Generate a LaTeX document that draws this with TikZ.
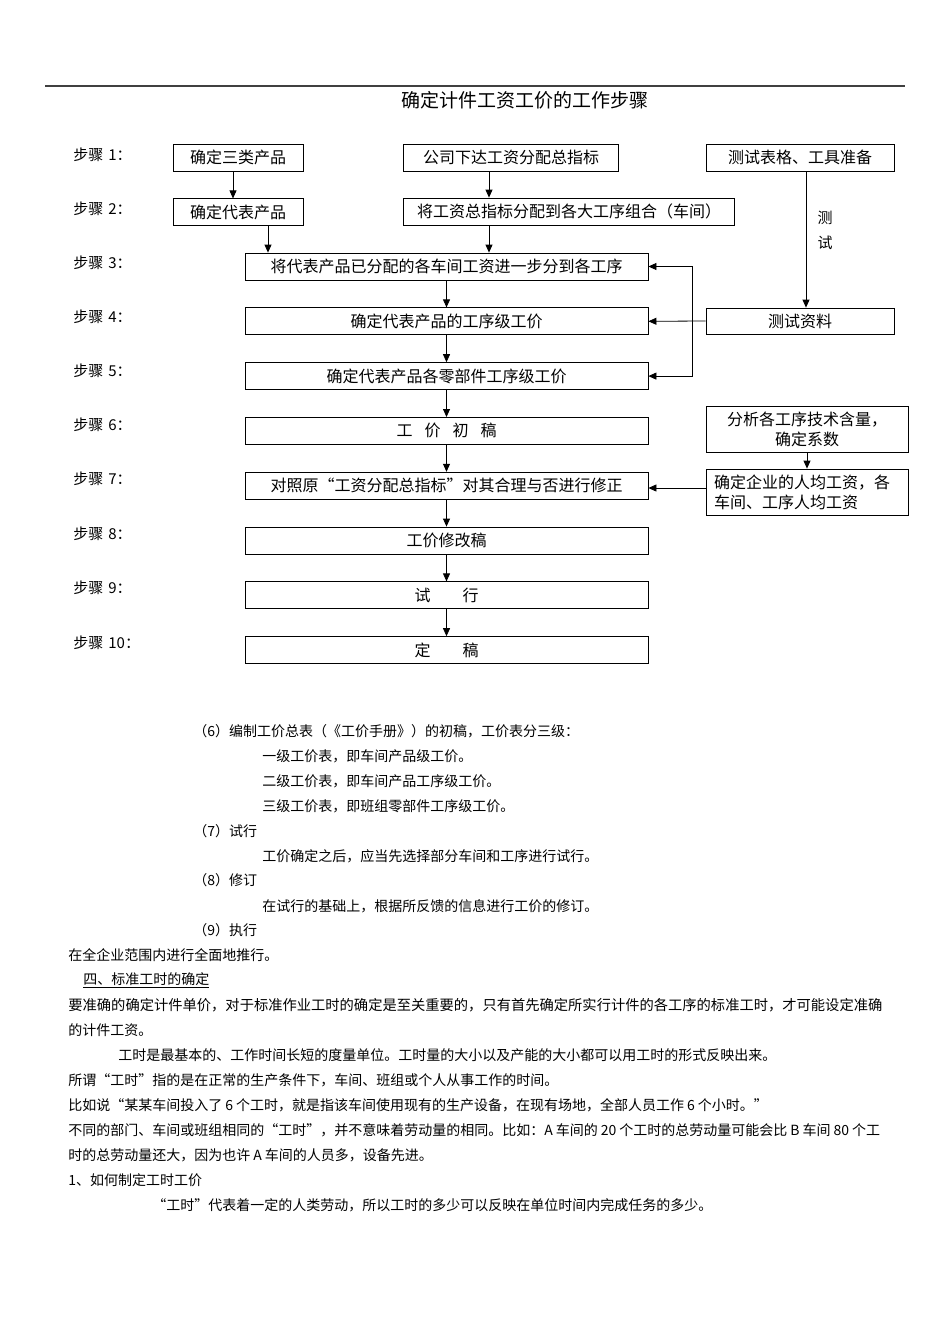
\documentclass[tikz,border=0pt]{standalone}
\usepackage{fontspec}
\setmainfont{Noto Sans CJK SC}
\XeTeXlinebreaklocale "zh"
\XeTeXlinebreakskip=0pt plus 2pt
\usetikzlibrary{arrows.meta, positioning}

\begin{document}
\begin{tikzpicture}[
      x=1pt, y=-1pt,
      node distance=27pt, % gap between the step boxes
      >={Triangle[length=8pt,width=7pt]},
      line width=0.8pt,
      proc/.style={
        rectangle,
        draw,
        align=center,
        inner sep=0pt,
        minimum height=27pt, % one-line boxes
        font=\fontsize{16}{20}\selectfont
      },
      wide/.style={proc, minimum width=403pt},
      steplabel/.style={anchor=west, inner sep=0pt, font=\fontsize{15}{18}\selectfont},
      para/.style={anchor=west, inner sep=0pt, font=\fontsize{14}{17}\selectfont}
    ]
  \useasboundingbox[fill=white] (0,0) rectangle (950,1344);

  % page rule and title
  \draw[line width=1.6pt, black!75] (45,86) -- (905,86);
  \node[font=\fontsize{19}{23}\selectfont] (title) at (525,100) {确定计件工资工价的工作步骤};

  % step labels
  \foreach \n/\y in {1/155, 2/209, 3/263, 4/317, 5/371, 6/425, 7/479, 8/534, 9/588, 10/643}
    \node[steplabel] (lab\n) at (73,\y) {步骤\hspace{5pt}\n：};

  % top rows
  \node[proc, minimum width=130pt] (prod3) at (238,157.5) {确定三类产品};
  \node[proc, minimum width=130pt, below=of prod3] (prodrep) {确定代表产品};
  \node[proc, minimum width=215pt] (total) at (511,157.5) {公司下达工资分配总指标};
  \node[proc, minimum width=331pt] (alloc) at (569,211.5) {将工资总指标分配到各大工序组合（车间）};
  \node[proc, minimum width=188pt] (tools) at (800,157.5) {测试表格、工具准备};

  % main column
  \node[wide] (s3) at (446.5,266.5) {将代表产品已分配的各车间工资进一步分到各工序};
  \node[wide, below=of s3] (s4) {确定代表产品的工序级工价};
  \node[wide, below=of s4] (s5) {确定代表产品各零部件工序级工价};
  \node[wide, below=of s5] (s6) {工\hspace{0.75em}价\hspace{0.75em}初\hspace{0.75em}稿};
  \node[wide, below=of s6] (s7) {对照原“工资分配总指标”对其合理与否进行修正};
  \node[wide, below=of s7] (s8) {工价修改稿};
  \node[wide, below=of s8] (s9) {试\hspace{2em}行};
  \node[wide, below=of s9] (s10) {定\hspace{2em}稿};

  % right column
  \node[proc, minimum width=188pt, minimum height=26pt] (tdata) at (800,321) {测试资料};
  \node[proc, minimum width=202pt, minimum height=46pt] (tech) at (807,429) {分析各工序技术含量，\\确定系数};
  \node[proc, text width=186pt, inner xsep=8pt, minimum height=46pt, align=left] (avg) at (807,492)
    {确定企业的人均工资，各\\车间、工序人均工资};
  \node[font=\fontsize{15}{18}\selectfont] (t1) at (825,218) {测};
  \node[font=\fontsize{15}{18}\selectfont] (t2) at (825,243) {试};

  % arrows
  \coordinate (fb) at (692,0);
  \draw[->] ([xshift=-5]prod3.south) -- ([xshift=-5]prodrep.north);
  \draw[->] ([xshift=30]prodrep.south) -- ([xshift=30]prodrep.south |- s3.north);
  \draw[->] ([xshift=-22]total.south) -- ([xshift=-22]total.south |- alloc.north);
  \draw[->] ([xshift=-80]alloc.south) -- ([xshift=-80]alloc.south |- s3.north);
  \foreach \a/\b in {s3/s4, s4/s5, s5/s6, s6/s7, s7/s8, s8/s9, s9/s10}
    \draw[->] (\a) -- (\b);
  \draw[->] ([xshift=6]tools.south) -- ([xshift=6]tools.south |- tdata.north);
  \draw[->] (tdata.west) -- (s4.east);
  \draw[->] (s4.east -| fb) |- (s3.east);
  \draw[->] (s4.east -| fb) |- (s5.east);
  \draw[->] (tech) -- (avg);
  \draw[->] ([yshift=4]avg.west) -- ([yshift=4]avg.west -| s7.east);

  % text below the chart
  \node[para] (p1) at (193,731) {（6）编制工价总表（《工价手册》）的初稿，工价表分三级：};
  \node[para] (p2) at (262,756) {一级工价表，即车间产品级工价。};
  \node[para] (p3) at (262,781) {二级工价表，即车间产品工序级工价。};
  \node[para] (p4) at (262,806) {三级工价表，即班组零部件工序级工价。};
  \node[para] (p5) at (193,831) {（7）试行};
  \node[para] (p6) at (262,856) {工价确定之后，应当先选择部分车间和工序进行试行。};
  \node[para] (p7) at (193,880) {（8）修订};
  \node[para] (p8) at (262,906) {在试行的基础上，根据所反馈的信息进行工价的修订。};
  \node[para] (p9) at (193,930) {（9）执行};
  \node[para] (p10) at (68,955) {在全企业范围内进行全面地推行。};
  \node[para] (p11) at (83,980) {\underline{四、标准工时的确定}};
  \node[para, font=\fontsize{14.28}{17}\selectfont] (p12) at (68,1005) {要准确的确定计件单价，对于标准作业工时的确定是至关重要的，只有首先确定所实行计件的各工序的标准工时，才可能设定准确};
  \node[para] (p13) at (68,1030) {的计件工资。};
  \node[para] (p14) at (118,1055) {工时是最基本的、工作时间长短的度量单位。工时量的大小以及产能的大小都可以用工时的形式反映出来。};
  \node[para] (p15) at (68,1080) {所谓“工时”指的是在正常的生产条件下，车间、班组或个人从事工作的时间。};
  \node[para] (p16) at (68,1105) {比如说“某某车间投入了\hspace{3pt}6\hspace{3pt}个工时，就是指该车间使用现有的生产设备，在现有场地，全部人员工作\hspace{3pt}6\hspace{3pt}个小时。”};
  \node[para] (p17) at (68,1130) {\makebox[814pt][s]{不同的部门、车间或班组相同的“工时”，并不意味着劳动量的相同。比如：A\hspace{3pt}车间的\hspace{3pt}20\hspace{3pt}个工时的总劳动量可能会比\hspace{3pt}B\hspace{3pt}车间\hspace{3pt}80\hspace{3pt}个工}};
  \node[para] (p18) at (68,1155) {时的总劳动量还大，因为也许\hspace{3pt}A\hspace{3pt}车间的人员多，设备先进。};
  \node[para] (p19) at (68,1180) {1、如何制定工时工价};
  \node[para] (p20) at (152,1205) {“工时”代表着一定的人类劳动，所以工时的多少可以反映在单位时间内完成任务的多少。};
\end{tikzpicture}
\end{document}
